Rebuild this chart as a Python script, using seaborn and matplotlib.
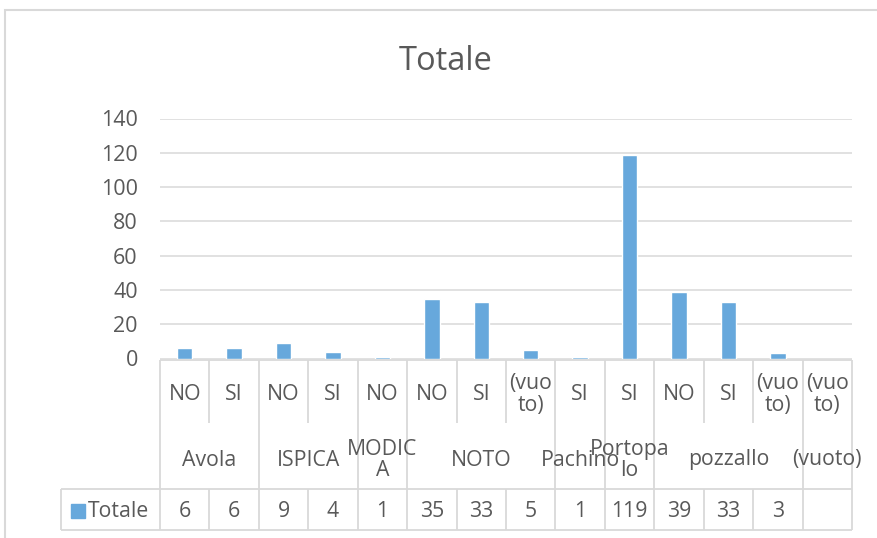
import numpy as np
import pandas as pd
import matplotlib
matplotlib.use("Agg")
import matplotlib.pyplot as plt
from matplotlib.patches import Rectangle
import seaborn as sns

# Pivot data: city (outer level), answer (inner level) and count
cities = ["Avola", "Avola", "ISPICA", "ISPICA", "MODICA", "NOTO", "NOTO", "NOTO",
          "Pachino", "Portopalo", "pozzallo", "pozzallo", "pozzallo", "(vuoto)"]
answers = ["NO", "SI", "NO", "SI", "NO", "NO", "SI", "(vuoto)",
           "SI", "SI", "NO", "SI", "(vuoto)", "(vuoto)"]
totals = [6, 6, 9, 4, 1, 35, 33, 5, 1, 119, 39, 33, 3, np.nan]
yticks = [0, 20, 40, 60, 80, 100, 120, 140]

# Wrapped versions of labels that do not fit in a single column cell
wrapped = {"(vuoto)": "(vuo\nto)"}
group_wrapped = {"MODICA": "MODIC\nA", "Portopalo": "Portopa\nlo"}

TEXT = "#595959"
GRID = "#D9D9D9"
BAR = "#67A8DC"
FS = 15.3

sns.set_theme(style="white")
plt.rcParams["font.family"] = ["Open Sans", "DejaVu Sans"]

W, H = 878, 538
fig = plt.figure(figsize=(W / 100, H / 100), dpi=100)

# pixel geometry of plot area and table
x0, x1 = 160, 852
y_top, y_zero = 118.5, 358.5
y_tab = 360
row1, row2, row3 = 423, 489, 530

ax = fig.add_axes([x0 / W, 1 - y_zero / H, (x1 - x0) / W, (y_zero - y_top) / H])

keys = [f"{c}|{a}" for c, a in zip(cities, answers)]
df = pd.DataFrame({"key": keys, "Totale": totals})
sns.barplot(data=df, x="key", y="Totale", order=keys, width=0.31,
            color=BAR, saturation=1, errorbar=None, ax=ax)

n = len(keys)
ax.set_xlim(-0.5, n - 0.5)
ax.set_ylim(0, 140)
ax.set_yticks(yticks)
ax.set_xticks([])
ax.set_xlabel("")
ax.set_ylabel("")
ax.grid(axis="y", color=GRID, linewidth=1.1)
ax.set_axisbelow(True)
for s in ax.spines.values():
    s.set_visible(False)
ax.tick_params(axis="y", length=0, pad=16, labelsize=15.5, labelcolor=TEXT)

# Table below the plot: same x scale, y in pixels below the zero line
tab = fig.add_axes([x0 / W, 1 - row3 / H, (x1 - x0) / W, (row3 - y_tab) / H])
tab.set_xlim(-0.5, n - 0.5)
tab.set_ylim(row3 - y_tab, 0)
tab.axis("off")

r1 = row1 - y_tab
r2 = row2 - y_tab
r3 = row3 - y_tab
lk = dict(color=GRID, linewidth=1.3, clip_on=False)

# group boundaries
groups = []
for i, c in enumerate(cities):
    if not groups or groups[-1][0] != c:
        groups.append([c, i, i])
    else:
        groups[-1][2] = i
group_edges = {g[1] - 0.5 for g in groups} | {n - 0.5}

header_w = 2.0
tab.hlines(0, -0.5, n - 0.5, **lk)
tab.hlines([r2, r3], -0.5 - header_w, n - 0.5, **lk)
tab.vlines(-0.5 - header_w, r2, r3, **lk)
for b in np.arange(-0.5, n, 1.0):
    if b in group_edges:
        tab.vlines(b, 0, r3, **lk)
    else:
        tab.vlines(b, 0, r1, **lk)
        tab.vlines(b, r2, r3, **lk)

# inner labels
for i, a in enumerate(answers):
    tab.text(i, r1 / 2 + 3, wrapped.get(a, a), ha="center", va="center",
             fontsize=FS, color=TEXT, linespacing=1.0)
# outer labels
for c, i0, i1 in groups:
    tab.text((i0 + i1) / 2, (r1 + r2) / 2 + 4, group_wrapped.get(c, c), ha="center",
             va="center", fontsize=FS, color=TEXT, linespacing=1.0)
# data row
for i, v in enumerate(totals):
    txt = "" if np.isnan(v) else f"{int(v)}"
    tab.text(i, (r2 + r3) / 2 + 2, txt, ha="center", va="center", fontsize=FS, color=TEXT)

# legend key + series name in the header cell
tab.add_patch(Rectangle((-0.5 - header_w + 0.19, (r2 + r3) / 2 - 6), 0.29, 14,
                        color=BAR, clip_on=False))
tab.text(-0.5 - header_w + 0.55, (r2 + r3) / 2 + 2, "Totale", ha="left", va="center",
         fontsize=FS, color=TEXT, clip_on=False)

# title
fig.text(446 / W, 1 - 61 / H, "Totale", ha="center", va="center",
         fontsize=23.5, color=TEXT)

# chart area border
fig.patches.append(Rectangle((5 / W, -0.2), 1.2, 1.2 - 10 / H, transform=fig.transFigure,
                             fill=False, edgecolor=GRID, linewidth=1.5))

fig.savefig("out.png", dpi=100)
